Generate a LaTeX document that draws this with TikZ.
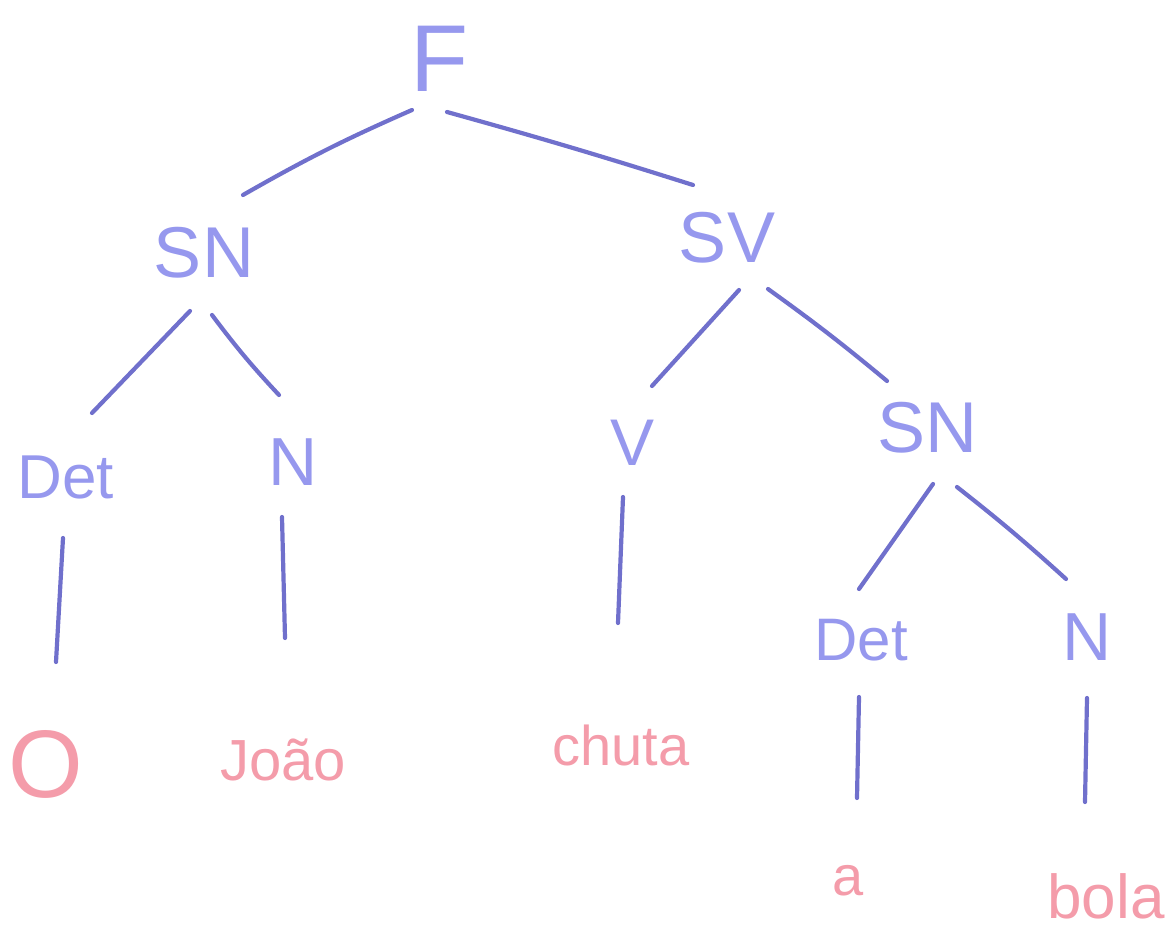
\documentclass[tikz,border=0pt]{standalone}
\usepackage{fontspec}
\setmainfont{Liberation Sans}
\definecolor{txtblue}{RGB}{150,152,238}
\definecolor{lineblue}{RGB}{112,112,204}
\definecolor{wordpink}{RGB}{244,156,170}
\tikzset{
  cat/.style={anchor=base, inner sep=0pt, outer sep=0pt, text=txtblue},
  word/.style={anchor=base, inner sep=0pt, outer sep=0pt, text=wordpink},
  branch/.style={draw=lineblue, line width=4.2pt, line cap=round, line join=round},
}
\newcommand{\fsz}[1]{\fontsize{#1}{#1}\selectfont}
\begin{document}
\begin{tikzpicture}[x=1pt,y=1pt]
\useasboundingbox (0,0) rectangle (1175,-934);
% categories
\node[cat, font=\fsz{95}] (F)    at (440,-92)  {F};
\node[cat, font=\fsz{72}] (SNl)  at (204,-277) {SN};
\node[cat, font=\fsz{72}] (SV)   at (727,-262) {SV};
\node[cat, font=\fsz{62}] (DetL) at (66,-498)  {Det};
\node[cat, font=\fsz{68}] (NL)   at (293,-485) {N};
\node[cat, font=\fsz{66}] (V)    at (633,-465) {V};
\node[cat, font=\fsz{72}] (SNr)  at (927,-452) {SN};
\node[cat, font=\fsz{60}] (DetR) at (861,-660) {Det};
\node[cat, font=\fsz{68}] (NR)   at (1087,-660) {N};
% words
\node[word, font=\fsz{96}]  (O)     at (46,-797)  {O};
\node[word, font=\fsz{58}]  (Joao)  at (283,-780) {João};
\node[word, font=\fsz{56}]  (chuta) at (621,-765) {chuta};
\node[word, font=\fsz{56}]  (a)     at (848,-895) {a};
\node[word, font=\fsz{62}]  (bola)  at (1106,-918) {bola};
% branches
\draw[branch] ([shift={(-28,-18)}]F.base) to[bend right=3] ([shift={(39,82)}]SNl.base);
\draw[branch] ([shift={(7,-20)}]F.base) to[bend left=1] ([shift={(-34,77)}]SV.base);
\draw[branch] ([shift={(-14,-34)}]SNl.base) -- ([shift={(26,85)}]DetL.base);
\draw[branch] ([shift={(8,-38)}]SNl.base) to[bend right=3] ([shift={(-14,90)}]NL.base);
\draw[branch] ([shift={(12,-28)}]SV.base) -- ([shift={(19,79)}]V.base);
\draw[branch] ([shift={(41,-27)}]SV.base) to[bend left=2] ([shift={(-40,71)}]SNr.base);
\draw[branch] ([shift={(6,-32)}]SNr.base) -- ([shift={(-2,71)}]DetR.base);
\draw[branch] ([shift={(30,-35)}]SNr.base) to[bend left=2] ([shift={(-21,81)}]NR.base);
\draw[branch] ([shift={(-3,-40)}]DetL.base) -- ([shift={(10,135)}]O.base);
\draw[branch] ([shift={(-11,-32)}]NL.base) -- ([shift={(2,142)}]Joao.base);
\draw[branch] ([shift={(-10,-32)}]V.base) -- ([shift={(-3,142)}]chuta.base);
\draw[branch] ([shift={(-2,-37)}]DetR.base) -- ([shift={(9,97)}]a.base);
\draw[branch] ([shift={(0,-38)}]NR.base) -- ([shift={(-21,116)}]bola.base);
\end{tikzpicture}
\end{document}
